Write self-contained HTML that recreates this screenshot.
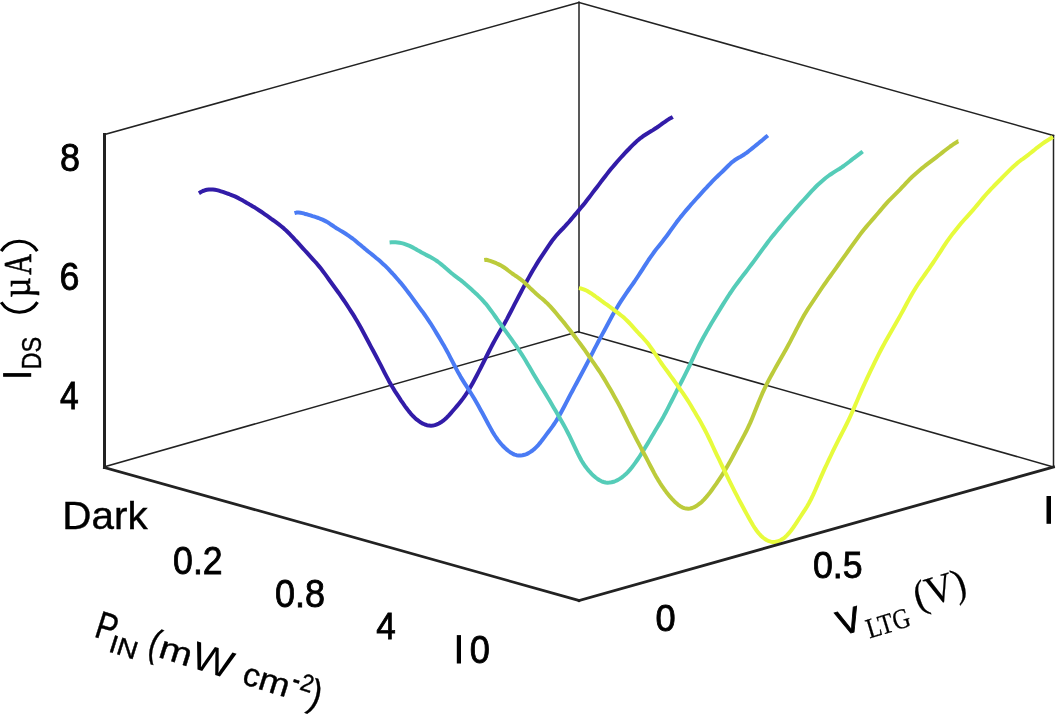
<!DOCTYPE html>
<html><head><meta charset="utf-8"><style>
html,body{margin:0;padding:0;background:#fff;}
body{width:1057px;height:715px;overflow:hidden;}
svg{display:block;will-change:transform;}
text{fill:#000;stroke:#000;}
</style></head><body>
<svg width="1057" height="715" viewBox="0 0 1057 715">
<rect width="1057" height="715" fill="#fff"/>
<line x1="104.5" y1="134.5" x2="579" y2="2.5" stroke="#222" stroke-width="1.5" stroke-linecap="square"/>
<line x1="579" y1="2.5" x2="1053.5" y2="135.5" stroke="#222" stroke-width="1.5" stroke-linecap="square"/>
<line x1="579" y1="2.5" x2="579" y2="332" stroke="#222" stroke-width="1.5" stroke-linecap="square"/>
<line x1="104.5" y1="466.8" x2="579" y2="331.5" stroke="#222" stroke-width="1.5" stroke-linecap="square"/>
<line x1="579" y1="332" x2="1053.5" y2="467" stroke="#222" stroke-width="1.5" stroke-linecap="square"/>
<line x1="1053.5" y1="135.5" x2="1053.5" y2="467" stroke="#222" stroke-width="1.5" stroke-linecap="square"/>
<polyline points="198.9,193.2 200.9,192.0 202.9,191.0 204.9,190.3 206.9,189.8 208.9,189.5 210.9,189.4 212.9,189.5 214.9,189.7 216.9,190.1 218.9,190.7 220.9,191.3 222.9,191.9 224.9,192.6 226.9,193.3 228.9,194.0 230.9,194.8 232.9,195.6 234.9,196.4 236.9,197.4 238.9,198.4 240.9,199.5 242.9,200.6 244.9,201.8 246.9,203.0 248.9,204.1 250.9,205.3 252.9,206.5 254.9,207.6 256.9,208.9 258.9,210.2 260.9,211.5 262.9,212.9 264.9,214.3 266.9,215.7 268.9,217.1 270.9,218.6 272.9,220.0 274.9,221.4 276.9,222.9 278.9,224.4 280.9,226.0 282.9,227.6 284.9,229.4 286.9,231.3 288.9,233.2 290.9,235.3 292.9,237.4 294.9,239.6 296.9,241.7 298.9,243.9 300.9,246.1 302.9,248.3 304.9,250.5 306.9,252.7 308.9,254.9 310.9,257.1 312.9,259.3 314.9,261.5 316.9,263.7 318.9,266.1 320.9,268.6 322.9,271.2 324.9,273.9 326.9,276.7 328.9,279.5 330.9,282.2 332.9,285.0 334.9,287.7 336.9,290.5 338.9,293.2 340.9,296.1 342.9,299.0 344.9,301.9 346.9,304.9 348.9,308.0 350.9,311.1 352.9,314.2 354.9,317.4 356.9,320.8 358.9,324.2 360.9,327.8 362.9,331.5 364.9,335.2 366.9,339.0 368.9,342.8 370.9,346.6 372.9,350.3 374.9,354.0 376.9,357.8 378.9,361.6 380.9,365.4 382.9,369.3 384.9,373.3 386.9,377.1 388.9,380.9 390.9,384.4 392.9,387.8 394.9,391.1 396.9,394.2 398.9,397.2 400.9,400.3 402.9,403.2 404.9,406.1 406.9,408.8 408.9,411.4 410.9,413.8 412.9,416.0 414.9,417.9 416.9,419.7 418.9,421.2 420.9,422.6 422.9,423.7 424.9,424.5 426.9,425.2 428.9,425.6 430.9,425.7 432.9,425.5 434.9,425.1 436.9,424.4 438.9,423.5 440.9,422.3 442.9,420.9 444.9,419.2 446.9,417.4 448.9,415.3 450.9,413.1 452.9,410.8 454.9,408.5 456.9,406.1 458.9,403.7 460.9,401.2 462.9,398.6 464.9,395.8 466.9,392.9 468.9,389.7 470.9,386.3 472.9,382.7 474.9,379.0 476.9,375.2 478.9,371.4 480.9,367.5 482.9,363.5 484.9,359.5 486.9,355.5 488.9,351.5 490.9,347.6 492.9,343.8 494.9,340.1 496.9,336.5 498.9,333.1 500.9,329.6 502.9,326.2 504.9,322.7 506.9,319.1 508.9,315.3 510.9,311.5 512.9,307.6 514.9,303.7 516.9,299.8 518.9,296.0 520.9,292.2 522.9,288.4 524.9,284.7 526.9,281.0 528.9,277.4 530.9,273.8 532.9,270.3 534.9,266.9 536.9,263.6 538.9,260.4 540.9,257.3 542.9,254.3 544.9,251.3 546.9,248.3 548.9,245.3 550.9,242.5 552.9,239.7 554.9,237.2 556.9,234.8 558.9,232.6 560.9,230.5 562.9,228.5 564.9,226.4 566.9,224.2 568.9,222.0 570.9,219.6 572.9,217.3 574.9,214.9 576.9,212.5 578.9,210.1 580.9,207.8 582.9,205.4 584.9,202.9 586.9,200.3 588.9,197.7 590.9,195.1 592.9,192.4 594.9,189.8 596.9,187.2 598.9,184.6 600.9,181.9 602.9,179.3 604.9,176.7 606.9,174.1 608.9,171.6 610.9,169.1 612.9,166.7 614.9,164.4 616.9,162.0 618.9,159.7 620.9,157.5 622.9,155.3 624.9,153.1 626.9,151.0 628.9,149.0 630.9,146.9 632.9,144.9 634.9,143.0 636.9,141.1 638.9,139.4 640.9,137.8 642.9,136.3 644.9,135.0 646.9,133.7 648.9,132.5 650.9,131.3 652.9,130.1 654.9,128.8 656.9,127.5 658.9,126.1 660.9,124.7 662.9,123.2 664.9,121.8 666.9,120.4 668.9,119.1 670.9,118.0 672.8,116.9" fill="none" stroke="#321ca8" stroke-width="4.0" stroke-linejoin="round" stroke-linecap="butt"/>
<polyline points="294.5,213.2 296.5,212.6 298.5,212.5 300.5,212.7 302.5,213.1 304.5,213.7 306.5,214.2 308.5,214.8 310.5,215.4 312.5,216.1 314.5,216.7 316.5,217.3 318.5,218.0 320.5,218.8 322.5,219.6 324.5,220.6 326.5,221.6 328.5,222.8 330.5,224.2 332.5,225.5 334.5,226.9 336.5,228.2 338.5,229.4 340.5,230.6 342.5,231.8 344.5,233.0 346.5,234.3 348.5,235.7 350.5,237.1 352.5,238.5 354.5,240.0 356.5,241.7 358.5,243.4 360.5,245.1 362.5,246.8 364.5,248.4 366.5,250.1 368.5,251.7 370.5,253.3 372.5,254.9 374.5,256.5 376.5,258.2 378.5,259.8 380.5,261.6 382.5,263.4 384.5,265.2 386.5,267.2 388.5,269.2 390.5,271.4 392.5,273.5 394.5,275.7 396.5,278.0 398.5,280.3 400.5,282.6 402.5,285.1 404.5,287.5 406.5,290.1 408.5,292.7 410.5,295.4 412.5,298.1 414.5,300.9 416.5,303.7 418.5,306.4 420.5,309.1 422.5,311.7 424.5,314.5 426.5,317.3 428.5,320.3 430.5,323.3 432.5,326.5 434.5,329.8 436.5,333.1 438.5,336.4 440.5,339.8 442.5,343.2 444.5,346.6 446.5,350.2 448.5,353.9 450.5,357.8 452.5,361.7 454.5,365.5 456.5,369.4 458.5,373.1 460.5,376.6 462.5,379.9 464.5,383.1 466.5,386.2 468.5,389.3 470.5,392.5 472.5,395.7 474.5,399.1 476.5,402.6 478.5,406.1 480.5,409.7 482.5,413.3 484.5,417.0 486.5,420.7 488.5,424.5 490.5,428.1 492.5,431.7 494.5,435.0 496.5,438.0 498.5,440.8 500.5,443.2 502.5,445.5 504.5,447.5 506.5,449.4 508.5,451.0 510.5,452.5 512.5,453.6 514.5,454.6 516.5,455.2 518.5,455.5 520.5,455.6 522.5,455.3 524.5,454.8 526.5,454.1 528.5,453.1 530.5,451.9 532.5,450.5 534.5,448.9 536.5,446.9 538.5,444.8 540.5,442.4 542.5,439.8 544.5,437.1 546.5,434.4 548.5,431.8 550.5,429.1 552.5,426.4 554.5,423.5 556.5,420.4 558.5,417.1 560.5,413.5 562.5,409.8 564.5,406.0 566.5,402.1 568.5,398.3 570.5,394.4 572.5,390.7 574.5,386.9 576.5,383.2 578.5,379.5 580.5,375.7 582.5,372.0 584.5,368.3 586.5,364.5 588.5,360.6 590.5,356.7 592.5,352.8 594.5,348.9 596.5,345.1 598.5,341.3 600.5,337.6 602.5,333.9 604.5,330.2 606.5,326.5 608.5,322.7 610.5,319.0 612.5,315.3 614.5,311.8 616.5,308.4 618.5,305.1 620.5,301.9 622.5,298.8 624.5,295.8 626.5,292.9 628.5,290.0 630.5,287.2 632.5,284.3 634.5,281.5 636.5,278.5 638.5,275.5 640.5,272.4 642.5,269.3 644.5,266.2 646.5,263.1 648.5,260.0 650.5,257.1 652.5,254.3 654.5,251.5 656.5,248.9 658.5,246.4 660.5,243.9 662.5,241.4 664.5,238.8 666.5,236.2 668.5,233.5 670.5,230.7 672.5,227.9 674.5,225.1 676.5,222.3 678.5,219.7 680.5,217.1 682.5,214.7 684.5,212.3 686.5,209.9 688.5,207.6 690.5,205.2 692.5,203.0 694.5,200.7 696.5,198.5 698.5,196.3 700.5,194.1 702.5,191.9 704.5,189.7 706.5,187.6 708.5,185.4 710.5,183.3 712.5,181.2 714.5,179.2 716.5,177.2 718.5,175.3 720.5,173.4 722.5,171.5 724.5,169.5 726.5,167.5 728.5,165.5 730.5,163.6 732.5,161.8 734.5,160.3 736.5,159.0 738.5,157.8 740.5,156.7 742.5,155.5 744.5,154.2 746.5,152.8 748.5,151.3 750.5,149.7 752.5,148.1 754.5,146.5 756.5,144.9 758.5,143.3 760.5,141.6 762.5,140.0 764.5,138.3 766.5,136.6 767.9,135.5" fill="none" stroke="#4a7bf4" stroke-width="4.0" stroke-linejoin="round" stroke-linecap="butt"/>
<polyline points="389.6,242.5 391.6,242.3 393.6,242.2 395.6,242.2 397.6,242.4 399.6,242.7 401.6,243.1 403.6,243.6 405.6,244.3 407.6,245.1 409.6,245.9 411.6,246.9 413.6,247.9 415.6,249.0 417.6,250.2 419.6,251.3 421.6,252.5 423.6,253.5 425.6,254.6 427.6,255.6 429.6,256.6 431.6,257.7 433.6,258.9 435.6,260.1 437.6,261.5 439.6,263.0 441.6,264.6 443.6,266.2 445.6,268.0 447.6,269.7 449.6,271.5 451.6,273.2 453.6,274.8 455.6,276.3 457.6,277.8 459.6,279.3 461.6,280.9 463.6,282.5 465.6,284.3 467.6,286.0 469.6,287.8 471.6,289.6 473.6,291.4 475.6,293.3 477.6,295.1 479.6,297.1 481.6,299.1 483.6,301.3 485.6,303.6 487.6,306.1 489.6,308.7 491.6,311.4 493.6,314.1 495.6,317.0 497.6,319.8 499.6,322.7 501.6,325.5 503.6,328.3 505.6,331.1 507.6,333.9 509.6,336.6 511.6,339.4 513.6,342.3 515.6,345.1 517.6,348.1 519.6,351.1 521.6,354.1 523.6,357.3 525.6,360.5 527.6,363.9 529.6,367.3 531.6,370.7 533.6,374.2 535.6,377.6 537.6,380.9 539.6,384.2 541.6,387.4 543.6,390.6 545.6,393.9 547.6,397.2 549.6,400.6 551.6,404.0 553.6,407.4 555.6,410.8 557.6,414.3 559.6,417.8 561.6,421.2 563.6,424.8 565.6,428.4 567.6,432.2 569.6,436.2 571.6,440.3 573.6,444.6 575.6,448.9 577.6,453.1 579.6,457.0 581.6,460.7 583.6,463.9 585.6,466.8 587.6,469.4 589.6,471.7 591.6,473.8 593.6,475.8 595.6,477.5 597.6,479.0 599.6,480.3 601.6,481.3 603.6,482.0 605.6,482.5 607.6,482.7 609.6,482.6 611.6,482.3 613.6,481.8 615.6,481.0 617.6,480.1 619.6,478.9 621.6,477.6 623.6,476.0 625.6,474.3 627.6,472.3 629.6,470.1 631.6,467.7 633.6,465.1 635.6,462.4 637.6,459.5 639.6,456.5 641.6,453.4 643.6,450.2 645.6,446.9 647.6,443.6 649.6,440.2 651.6,436.8 653.6,433.5 655.6,430.1 657.6,426.7 659.6,423.4 661.6,419.9 663.6,416.4 665.6,412.7 667.6,408.8 669.6,404.9 671.6,401.0 673.6,397.1 675.6,393.1 677.6,389.2 679.6,385.4 681.6,381.5 683.6,377.6 685.6,373.7 687.6,369.6 689.6,365.5 691.6,361.2 693.6,356.9 695.6,352.6 697.6,348.5 699.6,344.5 701.6,340.7 703.6,337.0 705.6,333.5 707.6,329.9 709.6,326.5 711.6,323.0 713.6,319.7 715.6,316.4 717.6,313.1 719.6,309.9 721.6,306.6 723.6,303.4 725.6,300.2 727.6,297.1 729.6,294.0 731.6,291.1 733.6,288.2 735.6,285.4 737.6,282.7 739.6,280.0 741.6,277.4 743.6,274.8 745.6,272.2 747.6,269.6 749.6,266.9 751.6,264.3 753.6,261.6 755.6,258.8 757.6,256.1 759.6,253.4 761.6,250.6 763.6,247.9 765.6,245.2 767.6,242.5 769.6,239.9 771.6,237.3 773.6,234.9 775.6,232.4 777.6,230.0 779.6,227.6 781.6,225.2 783.6,222.8 785.6,220.4 787.6,218.1 789.6,215.8 791.6,213.5 793.6,211.2 795.6,208.9 797.6,206.7 799.6,204.4 801.6,202.2 803.6,200.0 805.6,197.8 807.6,195.6 809.6,193.4 811.6,191.2 813.6,189.1 815.6,187.0 817.6,185.0 819.6,183.2 821.6,181.4 823.6,179.7 825.6,178.0 827.6,176.5 829.6,175.0 831.6,173.7 833.6,172.4 835.6,171.1 837.6,169.9 839.6,168.7 841.6,167.4 843.6,166.0 845.6,164.5 847.6,163.0 849.6,161.5 851.6,159.9 853.6,158.3 855.6,156.8 857.6,155.3 859.6,153.8 861.6,152.3 862.7,151.5" fill="none" stroke="#55ccb8" stroke-width="4.0" stroke-linejoin="round" stroke-linecap="butt"/>
<polyline points="484.2,260.1 486.2,259.8 488.2,260.3 490.2,260.9 492.2,261.6 494.2,262.4 496.2,263.2 498.2,264.1 500.2,265.1 502.2,266.2 504.2,267.5 506.2,268.9 508.2,270.5 510.2,272.0 512.2,273.5 514.2,274.9 516.2,276.2 518.2,277.6 520.2,279.0 522.2,280.6 524.2,282.3 526.2,284.2 528.2,286.1 530.2,288.1 532.2,290.0 534.2,291.9 536.2,293.8 538.2,295.5 540.2,297.2 542.2,298.8 544.2,300.6 546.2,302.4 548.2,304.3 550.2,306.4 552.2,308.6 554.2,310.9 556.2,313.3 558.2,315.7 560.2,318.1 562.2,320.5 564.2,322.9 566.2,325.4 568.2,327.9 570.2,330.5 572.2,333.1 574.2,335.8 576.2,338.5 578.2,341.1 580.2,343.8 582.2,346.5 584.2,349.2 586.2,352.1 588.2,355.0 590.2,357.9 592.2,360.8 594.2,363.7 596.2,366.6 598.2,369.5 600.2,372.5 602.2,375.6 604.2,378.9 606.2,382.2 608.2,385.7 610.2,389.1 612.2,392.6 614.2,396.2 616.2,399.7 618.2,403.4 620.2,407.1 622.2,411.0 624.2,415.0 626.2,419.0 628.2,423.1 630.2,427.1 632.2,431.0 634.2,434.9 636.2,438.8 638.2,442.6 640.2,446.4 642.2,450.2 644.2,454.0 646.2,457.8 648.2,461.6 650.2,465.5 652.2,469.3 654.2,473.1 656.2,476.7 658.2,480.1 660.2,483.3 662.2,486.3 664.2,489.2 666.2,491.9 668.2,494.4 670.2,496.9 672.2,499.1 674.2,501.2 676.2,503.1 678.2,504.8 680.2,506.2 682.2,507.3 684.2,508.1 686.2,508.6 688.2,508.7 690.2,508.5 692.2,508.0 694.2,507.2 696.2,506.1 698.2,504.7 700.2,503.2 702.2,501.4 704.2,499.3 706.2,497.1 708.2,494.7 710.2,492.2 712.2,489.5 714.2,486.7 716.2,483.9 718.2,480.9 720.2,477.9 722.2,474.8 724.2,471.6 726.2,468.3 728.2,464.8 730.2,461.3 732.2,457.6 734.2,453.8 736.2,450.1 738.2,446.3 740.2,442.6 742.2,438.9 744.2,435.1 746.2,431.3 748.2,427.2 750.2,422.9 752.2,418.2 754.2,413.3 756.2,408.3 758.2,403.3 760.2,398.4 762.2,393.7 764.2,389.3 766.2,385.2 768.2,381.2 770.2,377.4 772.2,373.7 774.2,370.1 776.2,366.6 778.2,363.1 780.2,359.6 782.2,356.1 784.2,352.6 786.2,349.0 788.2,345.3 790.2,341.6 792.2,337.7 794.2,333.8 796.2,329.9 798.2,326.1 800.2,322.3 802.2,318.6 804.2,315.0 806.2,311.7 808.2,308.5 810.2,305.5 812.2,302.5 814.2,299.5 816.2,296.5 818.2,293.5 820.2,290.5 822.2,287.5 824.2,284.6 826.2,281.8 828.2,278.9 830.2,276.2 832.2,273.4 834.2,270.6 836.2,267.8 838.2,265.0 840.2,262.2 842.2,259.4 844.2,256.6 846.2,253.8 848.2,251.0 850.2,248.2 852.2,245.4 854.2,242.6 856.2,239.9 858.2,237.1 860.2,234.4 862.2,231.8 864.2,229.3 866.2,226.9 868.2,224.5 870.2,222.2 872.2,219.9 874.2,217.6 876.2,215.3 878.2,213.0 880.2,210.6 882.2,208.2 884.2,205.9 886.2,203.6 888.2,201.4 890.2,199.3 892.2,197.3 894.2,195.3 896.2,193.3 898.2,191.3 900.2,189.3 902.2,187.2 904.2,185.1 906.2,182.9 908.2,180.8 910.2,178.7 912.2,176.8 914.2,175.0 916.2,173.2 918.2,171.5 920.2,169.8 922.2,168.1 924.2,166.5 926.2,164.9 928.2,163.4 930.2,161.9 932.2,160.4 934.2,158.9 936.2,157.4 938.2,155.8 940.2,154.2 942.2,152.6 944.2,151.0 946.2,149.5 948.2,148.0 950.2,146.5 952.2,145.1 954.2,143.7 956.2,142.5 958.2,141.2 958.3,141.2" fill="none" stroke="#bccb3b" stroke-width="4.0" stroke-linejoin="round" stroke-linecap="butt"/>
<polyline points="578.9,288.1 580.9,288.5 582.9,289.1 584.9,289.9 586.9,290.8 588.9,292.0 590.9,293.2 592.9,294.6 594.9,296.0 596.9,297.5 598.9,298.9 600.9,300.4 602.9,301.8 604.9,303.3 606.9,304.7 608.9,306.2 610.9,307.6 612.9,309.1 614.9,310.6 616.9,312.1 618.9,313.6 620.9,315.2 622.9,316.8 624.9,318.6 626.9,320.5 628.9,322.5 630.9,324.6 632.9,326.9 634.9,329.1 636.9,331.3 638.9,333.5 640.9,335.6 642.9,337.7 644.9,340.0 646.9,342.3 648.9,344.8 650.9,347.6 652.9,350.5 654.9,353.5 656.9,356.5 658.9,359.5 660.9,362.5 662.9,365.3 664.9,368.1 666.9,370.8 668.9,373.5 670.9,376.3 672.9,379.0 674.9,381.9 676.9,384.7 678.9,387.5 680.9,390.3 682.9,393.1 684.9,396.1 686.9,399.1 688.9,402.3 690.9,405.5 692.9,408.9 694.9,412.3 696.9,415.7 698.9,419.1 700.9,422.6 702.9,426.2 704.9,430.0 706.9,433.9 708.9,438.0 710.9,442.2 712.9,446.5 714.9,450.8 716.9,455.1 718.9,459.2 720.9,463.4 722.9,467.5 724.9,471.6 726.9,475.7 728.9,479.8 730.9,483.9 732.9,487.9 734.9,491.8 736.9,495.7 738.9,499.6 740.9,503.3 742.9,507.0 744.9,510.7 746.9,514.4 748.9,518.0 750.9,521.6 752.9,525.0 754.9,528.2 756.9,531.0 758.9,533.5 760.9,535.7 762.9,537.5 764.9,539.0 766.9,540.2 768.9,541.1 770.9,541.7 772.9,541.9 774.9,541.9 776.9,541.6 778.9,541.0 780.9,540.0 782.9,538.8 784.9,537.3 786.9,535.4 788.9,533.2 790.9,530.7 792.9,528.0 794.9,525.1 796.9,522.1 798.9,519.0 800.9,516.0 802.9,512.9 804.9,509.9 806.9,506.7 808.9,503.2 810.9,499.5 812.9,495.4 814.9,491.0 816.9,486.4 818.9,481.7 820.9,477.1 822.9,472.6 824.9,468.2 826.9,464.0 828.9,459.7 830.9,455.5 832.9,451.2 834.9,447.1 836.9,443.1 838.9,439.1 840.9,435.3 842.9,431.4 844.9,427.5 846.9,423.5 848.9,419.3 850.9,415.0 852.9,410.5 854.9,405.9 856.9,401.2 858.9,396.5 860.9,391.9 862.9,387.4 864.9,383.0 866.9,378.6 868.9,374.4 870.9,370.2 872.9,366.1 874.9,361.9 876.9,357.9 878.9,353.9 880.9,350.0 882.9,346.3 884.9,342.6 886.9,339.1 888.9,335.6 890.9,332.1 892.9,328.6 894.9,325.1 896.9,321.6 898.9,318.0 900.9,314.4 902.9,310.7 904.9,307.0 906.9,303.3 908.9,299.6 910.9,296.0 912.9,292.5 914.9,289.2 916.9,286.0 918.9,283.0 920.9,280.1 922.9,277.3 924.9,274.5 926.9,271.7 928.9,268.9 930.9,265.9 932.9,263.0 934.9,260.0 936.9,257.0 938.9,253.9 940.9,250.8 942.9,247.7 944.9,244.6 946.9,241.6 948.9,238.8 950.9,236.1 952.9,233.4 954.9,230.9 956.9,228.4 958.9,225.9 960.9,223.5 962.9,221.2 964.9,219.0 966.9,216.8 968.9,214.6 970.9,212.4 972.9,210.1 974.9,207.8 976.9,205.4 978.9,202.9 980.9,200.5 982.9,198.1 984.9,195.8 986.9,193.5 988.9,191.3 990.9,189.1 992.9,187.1 994.9,185.0 996.9,183.0 998.9,181.0 1000.9,179.0 1002.9,176.9 1004.9,174.9 1006.9,172.9 1008.9,170.9 1010.9,168.9 1012.9,167.0 1014.9,165.2 1016.9,163.4 1018.9,161.8 1020.9,160.2 1022.9,158.8 1024.9,157.3 1026.9,155.8 1028.9,154.3 1030.9,152.7 1032.9,151.1 1034.9,149.5 1036.9,147.8 1038.9,146.3 1040.9,144.8 1042.9,143.4 1044.9,142.0 1046.9,140.7 1048.9,139.5 1050.9,138.2 1052.9,136.9" fill="none" stroke="#e7fb3c" stroke-width="4.0" stroke-linejoin="round" stroke-linecap="butt"/>
<line x1="104.5" y1="134.5" x2="104.5" y2="467.5" stroke="#222" stroke-width="3" stroke-linecap="square"/>
<line x1="104.5" y1="467.5" x2="579" y2="600.5" stroke="#222" stroke-width="2.8" stroke-linecap="square"/>
<line x1="579" y1="600.5" x2="1053.5" y2="467" stroke="#222" stroke-width="2.8" stroke-linecap="square"/>
<g><text transform="translate(59.90,170.51) scale(0.9000,0.9897)" font-family="Liberation Sans" font-size="40" stroke-width="0.9">8</text><text transform="translate(59.51,289.65) scale(0.8947,0.9533)" font-family="Liberation Sans" font-size="40" stroke-width="0.9">6</text><text transform="translate(60.10,408.54) scale(0.8409,0.9567)" font-family="Liberation Sans" font-size="40" stroke-width="0.9">4</text><text transform="translate(62.31,528.80) scale(1.0636,1.0143)" font-family="Liberation Sans" font-size="38" stroke-width="0.4">Dark</text><text transform="translate(173.11,574.14) scale(0.8906,0.9567)" font-family="Liberation Sans" font-size="40" stroke-width="0.9">0.2</text><text transform="translate(275.00,606.55) scale(0.9000,0.9467)" font-family="Liberation Sans" font-size="40" stroke-width="0.9">0.8</text><text transform="translate(376.30,639.45) scale(0.8773,0.9467)" font-family="Liberation Sans" font-size="40" stroke-width="0.9">4</text><text transform="translate(469.70,662.84) scale(0.9050,0.9600)" font-family="Liberation Sans" font-size="40" stroke-width="0.9">0</text><text transform="translate(655.39,630.76) scale(0.9050,0.9433)" font-family="Liberation Sans" font-size="40" stroke-width="0.9">0</text><text transform="translate(812.91,578.30) scale(0.8925,0.9033)" font-family="Liberation Sans" font-size="40" stroke-width="0.9">0.5</text></g>
<g transform='rotate(-90)'><text transform="translate(-369.52,41.20) scale(0.9091,1.0500)" font-family="Liberation Sans" font-size="26" stroke-width="0.4">DS</text><text transform="translate(-297.53,30.45) scale(0.8273,0.9393)" font-family="Liberation Serif" font-size="42" stroke-width="0.7">µ</text><text transform="translate(-274.70,31.20) scale(0.6871,0.9786)" font-family="Liberation Serif" font-size="42" stroke-width="0.7">A</text></g>
<g transform='translate(95.5,637) rotate(17.5)'><text transform="translate(-2.50,0.00) scale(0.8333,1.0259)" font-family="Liberation Sans" font-size="38" stroke-width="0.4">P</text><text transform="translate(15.71,9.90) scale(1.1429,1.0111)" font-family="Liberation Sans" font-size="25" stroke-width="0.4">IN</text><text transform="translate(53.36,1.20) scale(0.8182,1.0250)" font-family="Liberation Sans" font-size="38" stroke-width="0.4">(</text><text transform="translate(64.61,0.30) scale(1.0464,0.8524)" font-family="Liberation Sans" font-size="38" stroke-width="0.4">m</text><text transform="translate(98.00,0.30) scale(1.1667,1.0259)" font-family="Liberation Sans" font-size="38" stroke-width="0.0">W</text><text transform="translate(152.33,0.40) scale(0.8706,0.8571)" font-family="Liberation Sans" font-size="38" stroke-width="0.4">c</text><text transform="translate(169.04,0.50) scale(0.9821,0.8619)" font-family="Liberation Sans" font-size="38" stroke-width="0.4">m</text><text transform="translate(201.03,-9.00) scale(0.9667,1.4000)" font-family="Liberation Sans" font-size="24" stroke-width="0.4">-</text><text transform="translate(209.56,-11.30) scale(0.9417,1.0235)" font-family="Liberation Sans" font-size="24" stroke-width="0.4">2</text><text transform="translate(222.00,1.28) scale(0.9091,1.0278)" font-family="Liberation Sans" font-size="38" stroke-width="0.4">)</text></g>
<g transform='translate(853.4,632.8) rotate(-17)'><text transform="translate(-12.70,-0.47) scale(0.9917,0.9679)" font-family="Liberation Sans" font-size="36" stroke-width="0.9">V</text><text transform="translate(13.70,10.20) scale(1.0047,1.1800)" font-family="Liberation Serif" font-size="24" stroke-width="0.25">LTG</text><text transform="translate(68.25,-3.48) scale(0.8737,0.9200)" font-family="Liberation Serif" font-size="44" stroke-width="0.25">(V)</text></g>
<path d="M1.2,251.1 A21.4,21.4 0 0 1 37.3,251.1" fill="none" stroke="#000" stroke-width="3.1"/>
<path d="M1.2,302.3 A21.5,21.5 0 0 0 37.5,302.1" fill="none" stroke="#000" stroke-width="3.1"/>
<rect x="3.1" y="373.1" width="28.1" height="3.7" fill="#000"/>
<rect x="456.8" y="635.1" width="4.2" height="28.4" fill="#000"/>
<rect x="1046.5" y="496" width="4.5" height="27.8" fill="#000"/>
</svg>
</body></html>
